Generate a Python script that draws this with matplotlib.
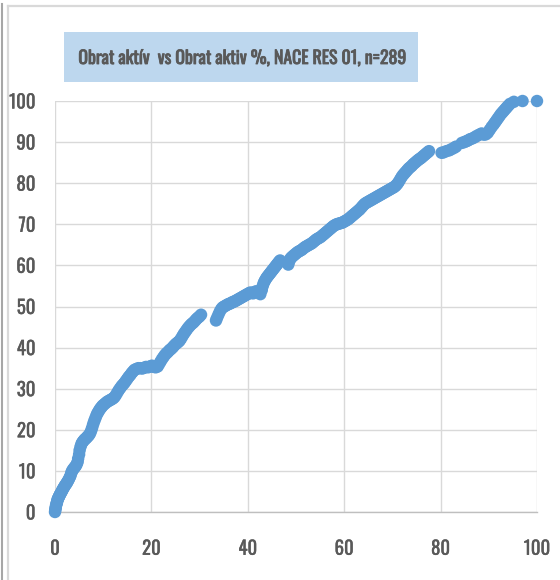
import matplotlib
matplotlib.use("Agg")
import matplotlib.pyplot as plt
from matplotlib.patches import Rectangle
from matplotlib.lines import Line2D
from matplotlib import font_manager
import matplotlib.patheffects as pe

title = "Obrat aktív  vs Obrat aktiv %, NACE RES 01, n=289"
x_ticks = [0, 20, 40, 60, 80, 100]
y_ticks = [0, 10, 20, 30, 40, 50, 60, 70, 80, 90, 100]

x_vals = [
    0.0, 0.05, 0.1, 0.15, 0.2, 0.3, 0.35, 0.45, 0.5, 0.6, 0.7, 0.8, 0.9, 1.0, 1.1, 1.25, 1.4, 1.5, 1.65, 1.8,
    1.95, 2.1, 2.3, 2.45, 2.6, 2.8, 3.0, 3.2, 3.35, 3.5, 3.7, 3.9, 4.1, 4.3, 4.5, 4.7, 4.8, 5.0, 5.1, 5.3, 5.5,
    5.7, 5.9, 6.1, 6.3, 6.5, 6.7, 6.9, 7.1, 7.3, 7.5, 7.7, 7.9, 8.1, 8.3, 8.5, 8.7, 8.9, 9.1, 9.3, 9.5, 9.7, 9.9,
    10.2, 10.5, 10.8, 11.1, 11.4, 11.7, 12.0, 12.3, 12.6, 12.9, 13.2, 13.5, 13.8, 14.1, 14.4, 14.7, 15.0, 15.3,
    15.6, 15.9, 16.2, 16.5,
    16.9, 17.3, 17.7, 18.1, 18.5, 18.9, 19.3, 19.7, 20.1, 20.5, 20.9, 21.3,
    21.6, 21.9, 22.2, 22.5, 22.8, 23.1, 23.4, 23.7, 24.0, 24.3, 24.6, 24.9, 25.2, 25.5, 25.8, 26.1, 26.4, 26.7,
    27.0, 27.3, 27.6, 27.9, 28.2, 28.5, 28.8, 29.1, 29.4, 29.7, 30.0, 30.3,
    33.4, 33.6, 33.9, 34.2, 34.5, 34.8, 35.1, 35.4, 35.7, 36.0, 36.3, 36.6, 36.9, 37.2, 37.5, 37.8, 38.1, 38.4,
    38.7, 39.0, 39.3, 39.6, 39.9, 40.2, 40.5, 40.8, 41.1, 41.4, 41.7, 42.0, 42.3,
    42.6, 42.9, 43.1, 43.3, 43.5, 43.7, 43.9, 44.1, 44.3, 44.5, 44.7, 44.9, 45.1, 45.3, 45.5, 45.7, 45.9, 46.1,
    46.3, 46.5, 46.7,
    48.4, 48.6, 48.8, 49.1, 49.4, 49.7, 50.0, 50.3, 50.6, 50.9, 51.2, 51.5, 51.8, 52.1, 52.4, 52.7, 53.0, 53.3,
    53.6, 53.9, 54.2, 54.5, 54.8, 55.1, 55.4, 55.7, 56.0, 56.3, 56.6, 56.9, 57.2, 57.5, 57.8, 58.1, 58.4, 58.7,
    59.0, 59.3, 59.6, 59.9, 60.2, 60.5, 60.8, 61.1, 61.4, 61.7, 62.0, 62.3, 62.6, 62.9,
    63.2, 63.5, 63.8, 64.1, 64.4, 64.7, 65.0, 65.3, 65.6, 65.9, 66.2, 66.5, 66.8, 67.1, 67.4, 67.7, 68.0, 68.3,
    68.6, 68.9, 69.2, 69.5, 69.8, 70.1, 70.4, 70.7, 71.0, 71.3, 71.6, 71.9, 72.2, 72.5, 72.8, 73.1, 73.4, 73.7,
    74.0, 74.3, 74.6, 74.9, 75.2, 75.5, 75.8, 76.1, 76.4, 76.7, 77.0, 77.3, 77.6,
    80.2, 80.6, 81.2, 81.8, 82.3, 82.8, 83.2, 84.4, 84.9, 85.3, 85.7, 86.1, 86.6, 87.1, 87.5, 88.0, 88.5, 89.0,
    89.4, 89.8, 90.2, 90.6, 91.0, 91.3, 91.6, 91.9, 92.2, 92.5, 92.8, 93.1, 93.4, 93.7, 94.0, 94.4, 95.2, 97.0,
    100.0,
]
y_vals = [
    0.0, 0.4, 0.8, 1.1, 1.5, 1.9, 2.2, 2.5, 2.9, 3.2, 3.4, 3.7, 3.9, 4.2, 4.4, 4.7, 5.0, 5.3, 5.6, 5.9,
    6.2, 6.5, 6.8, 7.1, 7.4, 7.8, 8.3, 8.8, 9.4, 9.9, 10.3, 10.6, 10.9, 11.2, 11.6, 12.2, 13.0, 14.0, 15.0, 15.9, 16.6,
    17.0, 17.3, 17.6, 17.8, 18.0, 18.3, 18.5, 18.8, 19.2, 19.8, 20.5, 21.3, 22.0, 22.6, 23.2, 23.8, 24.2, 24.6,
    25.0, 25.3, 25.6, 25.9,
    26.2, 26.5, 26.8, 27.0, 27.2, 27.4, 27.6, 27.9, 28.4, 29.0, 29.6, 30.1, 30.6, 31.0, 31.4, 31.9, 32.4, 32.9,
    33.3, 33.8, 34.2, 34.6,
    34.8, 35.0, 35.0, 34.9, 35.1, 35.3, 35.2, 35.4, 35.6, 35.3, 35.2, 35.4,
    36.0, 36.6, 37.2, 37.7, 38.2, 38.6, 38.9, 39.3, 39.6, 39.9, 40.3, 40.7, 41.0, 41.3, 41.6, 42.1, 42.7, 43.3,
    43.8, 44.3, 44.8, 45.2, 45.6, 45.9, 46.2, 46.6, 47.0, 47.3, 47.6, 48.0,
    46.6, 47.2, 48.0, 48.8, 49.4, 49.8, 50.0, 50.2, 50.4, 50.6, 50.7, 50.9, 51.1, 51.2, 51.4, 51.6, 51.8, 52.0,
    52.2, 52.4, 52.6, 52.8, 53.0, 53.2, 53.4, 53.3, 53.2, 53.5, 53.7, 53.6, 53.4,
    53.0, 54.0, 55.0, 55.7, 56.2, 56.6, 57.0, 57.3, 57.6, 57.9, 58.2, 58.5, 58.8, 59.1, 59.4, 59.7, 60.0, 60.3,
    60.6, 60.9, 61.2,
    60.2, 61.0, 61.6, 62.0, 62.3, 62.6, 62.9, 63.2, 63.4, 63.6, 63.8, 64.1, 64.4, 64.6, 64.8, 65.0, 65.2, 65.4,
    65.7, 66.0, 66.3, 66.5, 66.7, 66.9, 67.2, 67.5, 67.8, 68.1, 68.4, 68.7, 69.0, 69.3, 69.6, 69.8, 70.0, 70.1,
    70.2, 70.3, 70.4, 70.6, 70.8, 71.0, 71.2, 71.5, 71.8, 72.1, 72.4, 72.7, 73.0, 73.3,
    73.6, 74.0, 74.4, 74.8, 75.1, 75.3, 75.5, 75.7, 75.9, 76.1, 76.3, 76.5, 76.7, 76.9, 77.1, 77.3, 77.5, 77.7,
    77.9, 78.1, 78.3, 78.5, 78.7, 78.9, 79.1, 79.4, 79.8, 80.3, 80.9, 81.5, 82.0, 82.4, 82.8, 83.2, 83.6, 83.9,
    84.2, 84.6, 84.9, 85.2, 85.5, 85.8, 86.0, 86.3, 86.6, 86.9, 87.2, 87.5, 87.8,
    87.4, 87.5, 87.8, 88.0, 88.3, 88.6, 88.9, 89.8, 90.0, 90.2, 90.4, 90.7, 90.9, 91.2, 91.5, 91.8, 92.1, 91.8,
    91.9, 92.3, 93.0, 93.7, 94.3, 94.8, 95.3, 95.8, 96.3, 96.8, 97.2, 97.6, 98.0, 98.4, 98.8, 99.3, 99.8, 100.0,
    100.0,
]

available = {f.name for f in font_manager.fontManager.ttflist}
if "Oswald" in available:
    fam = ["Oswald", "DejaVu Sans"]
    title_size, tick_size, title_stroke, tick_stroke = 12.8, 13.5, 0.6, 0.25
else:
    fam = [f for f in ["Fira Sans Extra Condensed", "DejaVu Sans"] if f in available]
    title_size, tick_size, title_stroke, tick_stroke = 13.3, 13.5, 0.3, 0.1
plt.rcParams['font.family'] = fam

W, H = 560, 580
TXT = "#595959"
fig = plt.figure(figsize=(W / 100, H / 100), dpi=100)

# chart-area frame lines
fig.add_artist(Line2D([1.5 / W, 1.5 / W], [0, 1 - 4 / H], color="#A6A6A6", lw=1.5, transform=fig.transFigure))
fig.add_artist(Line2D([8 / W, 8 / W], [0, 1 - 6 / H], color="#D9D9D9", lw=1.6, transform=fig.transFigure))
fig.add_artist(Line2D([8 / W, 1], [1 - 6 / H, 1 - 6 / H], color="#D9D9D9", lw=1.6, transform=fig.transFigure))

# title box
fig.add_artist(Rectangle((64 / W, 1 - 82 / H), 354 / W, 50 / H, transform=fig.transFigure,
                         facecolor="#BDD7EE", edgecolor="none"))
fig.text(243 / W, 1 - 58 / H, title, ha="center", va="center", fontsize=title_size, color=TXT,
         path_effects=[pe.withStroke(linewidth=title_stroke, foreground=TXT)])

ax = fig.add_axes([55 / W, 1 - 512 / H, (537 - 55) / W, (512 - 101) / H])
ax.scatter(x_vals, y_vals, s=80, color="#5B9BD5", edgecolors="none", zorder=3, clip_on=False)
ax.set_xlim(0, 100)
ax.set_ylim(0, 100)
ax.set_xticks(x_ticks)
ax.set_yticks(y_ticks)
ax.grid(True, color="#D9D9D9", lw=1.0, zorder=0)
ax.set_axisbelow(True)
for s in ["top", "right", "left"]:
    ax.spines[s].set_visible(False)
ax.spines["bottom"].set_color("#BFBFBF")
ax.spines["bottom"].set_linewidth(1.0)
ax.tick_params(axis="both", length=0, labelsize=tick_size, labelcolor=TXT)
for lab in ax.get_xticklabels() + ax.get_yticklabels():
    lab.set_path_effects([pe.withStroke(linewidth=tick_stroke, foreground=TXT)])
ax.tick_params(axis="y", pad=14)
ax.tick_params(axis="x", pad=20)

fig.savefig("out.png", dpi=100)
